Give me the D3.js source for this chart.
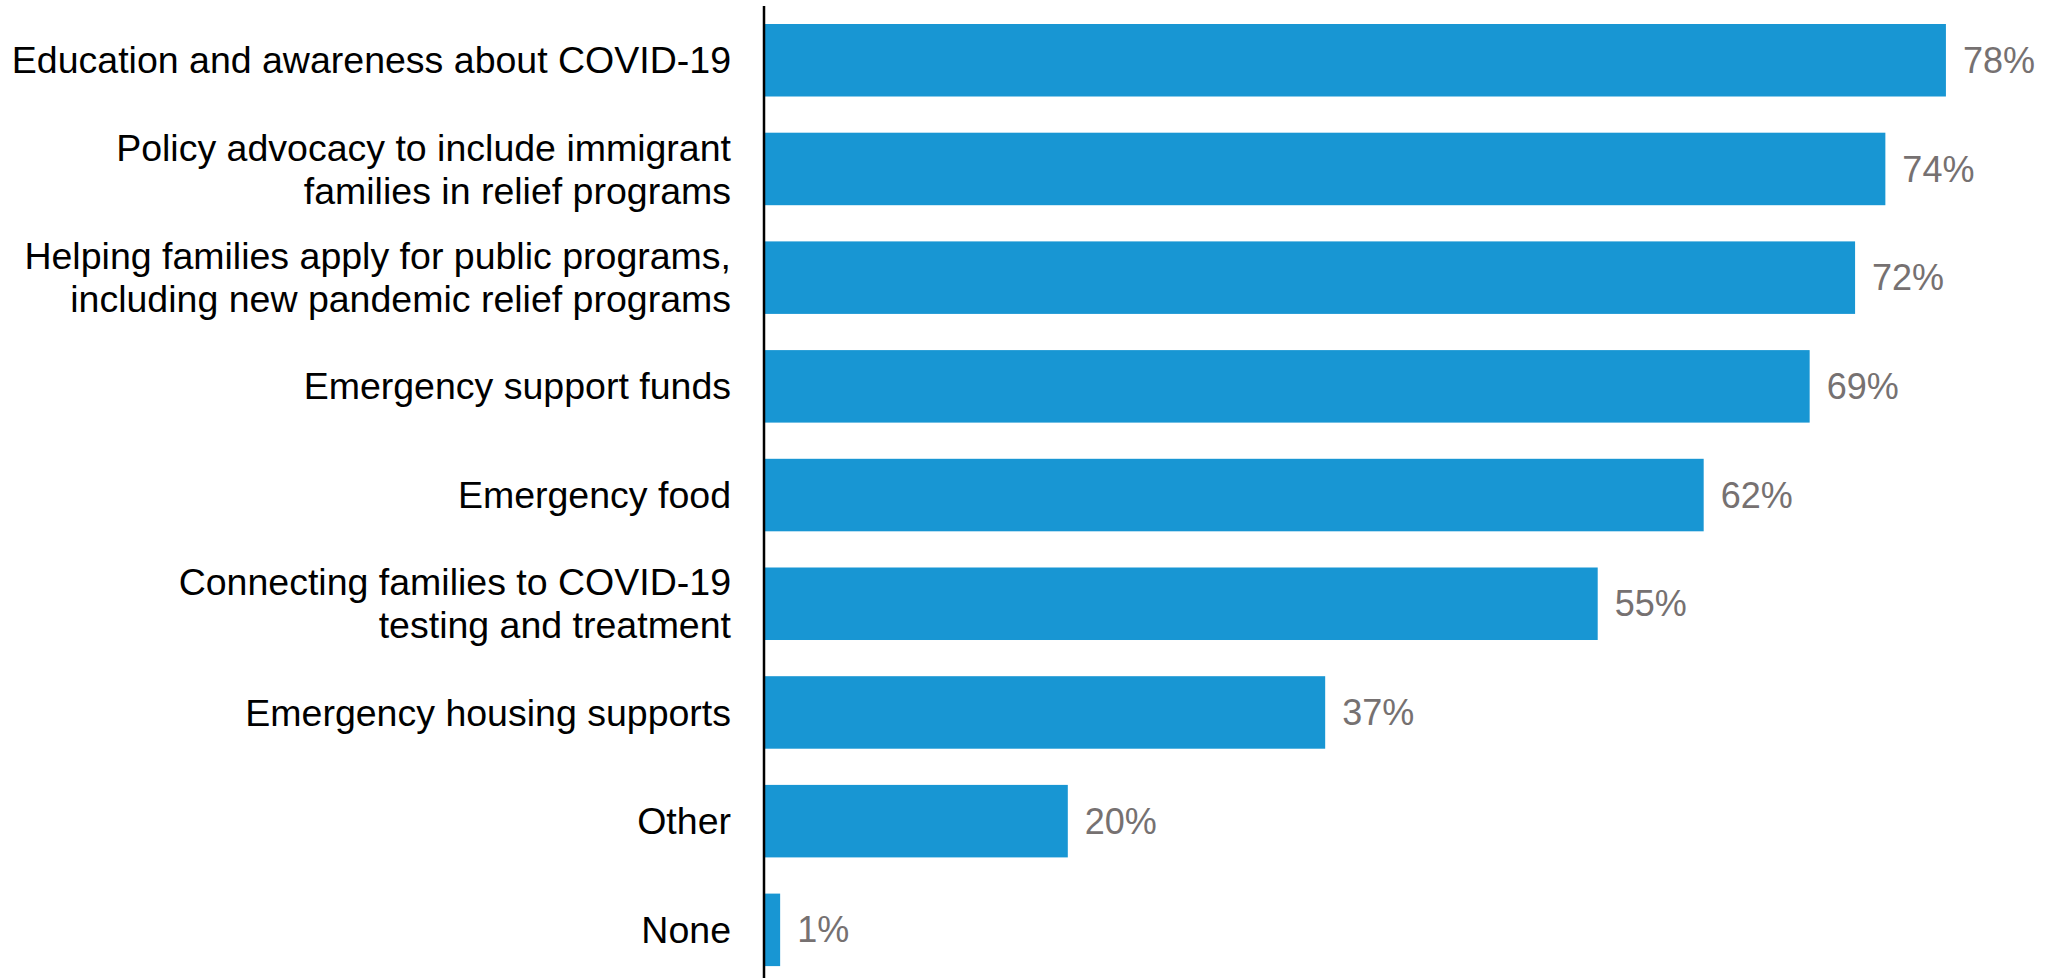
<!DOCTYPE html>
<html>
<head>
<meta charset="utf-8">
<script src="https://cdn.jsdelivr.net/npm/d3@7"></script>
<style>
  html, body { margin: 0; padding: 0; background: #fff; }
  svg { display: block; }
</style>
</head>
<body>
<svg id="chart" width="2049" height="978"></svg>
<script>
// Share of organizations providing each type of support
const categories = [
  ["Education and awareness about COVID-19"],
  ["Policy advocacy to include immigrant", "families in relief programs"],
  ["Helping families apply for public programs,", "including new pandemic relief programs"],
  ["Emergency support funds"],
  ["Emergency food"],
  ["Connecting families to COVID-19", "testing and treatment"],
  ["Emergency housing supports"],
  ["Other"],
  ["None"]
];
const values = [78, 74, 72, 69, 62, 55, 37, 20, 1];
const valueLabels = ["78%", "74%", "72%", "69%", "62%", "55%", "37%", "20%", "1%"];

const width = 2049, height = 978;
const axisX = 764;
const labelX = 731;
const svg = d3.select("#chart");

const idx = d3.range(values.length);

const x = d3.scaleLinear().domain([0, 100]).range([axisX + 1, axisX + 1 + 1514]);

// band step ~108.7px, bars ~72.5px tall, first bar top at y=24
const step = 108.7, pad = 0.333;
const y = d3.scaleBand()
  .domain(idx)
  .range([24 - step * pad / 2, 24 - step * pad / 2 + step * values.length])
  .paddingInner(pad)
  .paddingOuter(pad / 2);

const font = "'Liberation Sans', Arial, Helvetica, sans-serif";

// bars
svg.append("g").selectAll("rect")
  .data(idx)
  .enter().append("rect")
  .attr("x", x(0))
  .attr("y", i => y(i))
  .attr("width", i => x(values[i]) - x(0))
  .attr("height", y.bandwidth())
  .attr("fill", "#1896D3");

// value labels
svg.append("g").selectAll("text")
  .data(idx)
  .enter().append("text")
  .attr("x", i => x(values[i]) + 17)
  .attr("y", i => y(i) + y.bandwidth() / 2)
  .attr("dy", "0.35em")
  .attr("font-family", font)
  .attr("font-size", 36)
  .attr("fill", "#767171")
  .text(i => valueLabels[i]);

// category labels (one or two lines, centred on the bar)
const lineH = 43;
const cat = svg.append("g").selectAll("text")
  .data(idx)
  .enter().append("text")
  .attr("x", labelX)
  .attr("y", i => y(i) + y.bandwidth() / 2)
  .attr("text-anchor", "end")
  .attr("font-family", font)
  .attr("font-size", 37.5)
  .attr("fill", "#000");
cat.each(function(i) {
  const lines = categories[i];
  const t = d3.select(this);
  const start = -(lines.length - 1) / 2 * lineH;
  lines.forEach((ln, k) => {
    t.append("tspan")
      .attr("x", labelX)
      .attr("y", y(i) + y.bandwidth() / 2 + start + k * lineH)
      .attr("dy", "0.35em")
      .text(ln);
  });
});

// vertical axis line
svg.append("line")
  .attr("x1", axisX).attr("x2", axisX)
  .attr("y1", 6).attr("y2", height)
  .attr("stroke", "#000")
  .attr("stroke-width", 2.5);
</script>
</body>
</html>
